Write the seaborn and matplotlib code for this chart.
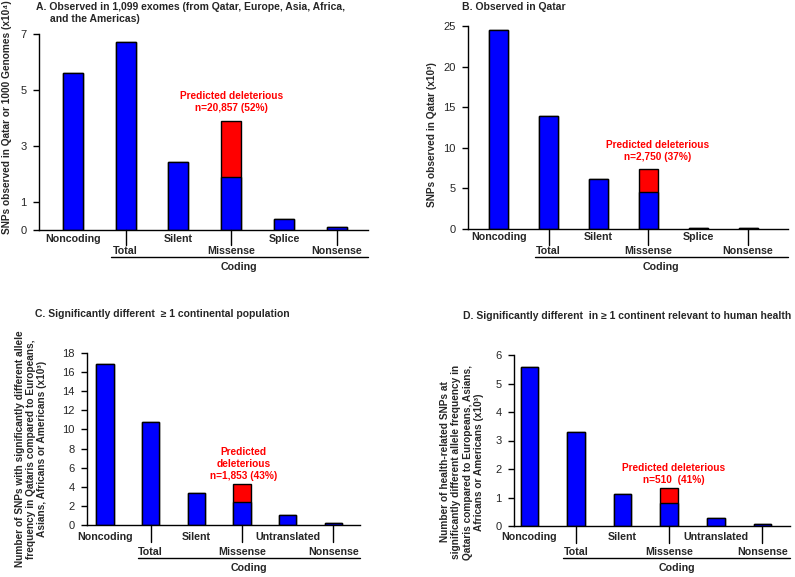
import pandas as pd
import seaborn as sns
import matplotlib.pyplot as plt
import matplotlib.transforms as mtransforms

# Panel data (values in the units of each y axis)
cats_a = ["Noncoding", "Total", "Silent", "Missense", "Splice", "Nonsense"]
total_a = [5.6, 6.7, 2.43, 3.9, 0.41, 0.09]
benign_a = [5.6, 6.7, 2.43, 1.9, 0.41, 0.09]

cats_b = ["Noncoding", "Total", "Silent", "Missense", "Splice", "Nonsense"]
total_b = [24.5, 13.9, 6.2, 7.35, 0.07, 0.16]
benign_b = [24.5, 13.9, 6.2, 4.6, 0.07, 0.16]

cats_c = ["Noncoding", "Total", "Silent", "Missense", "Untranslated", "Nonsense"]
total_c = [16.8, 10.75, 3.32, 4.3, 1.01, 0.22]
benign_c = [16.8, 10.75, 3.32, 2.45, 1.01, 0.22]

cats_d = ["Noncoding", "Total", "Silent", "Missense", "Untranslated", "Nonsense"]
total_d = [5.58, 3.29, 1.11, 1.34, 0.27, 0.08]
benign_d = [5.58, 3.29, 1.11, 0.80, 0.27, 0.08]

BLUE = "#0000FF"
RED = "#FF0000"
FONT = ["Liberation Sans", "DejaVu Sans"]

sns.set_style("white")
plt.rcParams["font.family"] = FONT
plt.rcParams["font.size"] = 7.3

W, H = 795, 577
fig = plt.figure(figsize=(W / 100, H / 100), dpi=100)


def px_axes(x0, y0, x1, y1):
    return fig.add_axes([x0 / W, 1 - y1 / H, (x1 - x0) / W, (y1 - y0) / H])


def draw_panel(ax, cats, total, benign, yticks, ylim, xlim, note, note_xy, offs):
    df = pd.DataFrame({"cat": cats, "total": total, "benign": benign})
    pal = {c: (RED if c == "Missense" else BLUE) for c in cats}
    sns.barplot(data=df, x="cat", y="total", hue="cat", palette=pal, order=cats,
                width=0.38, edgecolor="black", linewidth=1.0, saturation=1,
                legend=False, ax=ax)
    sns.barplot(data=df, x="cat", y="benign", color=BLUE, order=cats,
                width=0.38, edgecolor="black", linewidth=1.0, saturation=1, ax=ax)
    ax.set_xlim(*xlim)
    ax.set_ylim(*ylim)
    ax.set_yticks(yticks)
    ax.set_xticks([])
    ax.set_xlabel("")
    ax.set_ylabel("")
    sns.despine(ax=ax)
    for s in ["left", "bottom"]:
        ax.spines[s].set_color("black")
        ax.spines[s].set_linewidth(1.0)
    ax.tick_params(axis="y", direction="out", length=4, width=1, color="black",
                   left=True, labelsize=8, pad=5)

    # category labels in two rows, ticks for the lower row
    h_px = ax.get_position().height * H
    up, tick, low, line, coding = offs
    tr = mtransforms.blended_transform_factory(ax.transData, ax.transAxes)
    for i, c in enumerate(cats):
        if i % 2 == 0:
            ax.text(i, -up / h_px, c, transform=tr, ha="center", va="center",
                    fontweight="bold", fontsize=7.7, clip_on=False)
        else:
            ax.plot([i, i], [0, -tick / h_px], transform=tr, color="black",
                    lw=1.0, clip_on=False)
            ax.text(i, -low / h_px, c, transform=tr, ha="center", va="center",
                    fontweight="bold", fontsize=7.7, clip_on=False)
    ax.plot([0.72, xlim[1]], [-line / h_px] * 2, transform=tr, color="black",
            lw=1.0, clip_on=False)
    ax.text((0.72 + xlim[1]) / 2, -coding / h_px, "Coding", transform=tr,
            ha="center", va="center", fontweight="bold", fontsize=7.7, clip_on=False)

    ax.text(note_xy[0], note_xy[1], note, color=RED, ha="center", va="center",
            fontweight="bold", linespacing=1.25)


ax_a = px_axes(39, 34, 368, 230)
draw_panel(ax_a, cats_a, total_a, benign_a, [0, 1, 3, 5, 7], (0, 7), (-0.64, 5.59),
           "Predicted deleterious\nn=20,857 (52%)", (3, 4.57), (9, 15, 21, 27, 37))

ax_b = px_axes(468, 26, 788, 229)
draw_panel(ax_b, cats_b, total_b, benign_b, [0, 5, 10, 15, 20, 25], (0, 25), (-0.62, 5.8),
           "Predicted deleterious\nn=2,750 (37%)", (3.18, 9.6), (8, 16, 22, 28, 38))

ax_c = px_axes(87, 353, 360, 525)
draw_panel(ax_c, cats_c, total_c, benign_c, list(range(0, 19, 2)), (0, 18), (-0.39, 5.58),
           "Predicted\ndeleterious\nn=1,853 (43%)", (3.03, 6.38), (12, 17, 27, 33, 43))

ax_d = px_axes(514, 355, 790, 526)
draw_panel(ax_d, cats_d, total_d, benign_d, [0, 1, 2, 3, 4, 5, 6], (0, 6), (-0.33, 5.59),
           "Predicted deleterious\nn=510  (41%)", (3.1, 1.82), (11, 17, 26, 32, 42))

# panel titles
def ftext(x, y, s, **kw):
    fig.text(x / W, 1 - y / H, s, **kw)

ftext(36, 7.5, "A. Observed in 1,099 exomes (from Qatar, Europe, Asia, Africa,",
      va="center", fontweight="bold", fontsize=7.5)
ftext(50, 19.5, "and the Americas)", va="center", fontweight="bold", fontsize=7.5)
ftext(462, 7.5, "B. Observed in Qatar", va="center", fontweight="bold", fontsize=7.5)
ftext(35, 314, "C. Significantly different  \u2265 1 continental population",
      va="center", fontweight="bold", fontsize=7.5)
ftext(463, 316, "D. Significantly different  in \u2265 1 continent relevant to human health",
      va="center", fontweight="bold", fontsize=7.5)

# y axis labels
ylab = dict(rotation=90, ha="center", va="center", multialignment="center",
            fontweight="bold", linespacing=1.15)
ftext(7.5, 117, "SNPs observed in Qatar or 1000 Genomes (x10\u2074)", **ylab)
ftext(432, 135, "SNPs observed in Qatar (x10\u00b3)", **ylab)
ftext(31, 449, "Number of SNPs with significantly different allele\n"
      "frequency in Qataris compared to Europeans,\n"
      "Asians, Africans or Americans (x10\u00b3)", **ylab)
ftext(462, 462, "Number of health-related SNPs at\n"
      "significantly different allele frequency in\n"
      "Qataris compared to Europeans, Asians,\n"
      "Africans or Americans (x10\u00b3)", **ylab)

fig.savefig("out.png", dpi=100)
